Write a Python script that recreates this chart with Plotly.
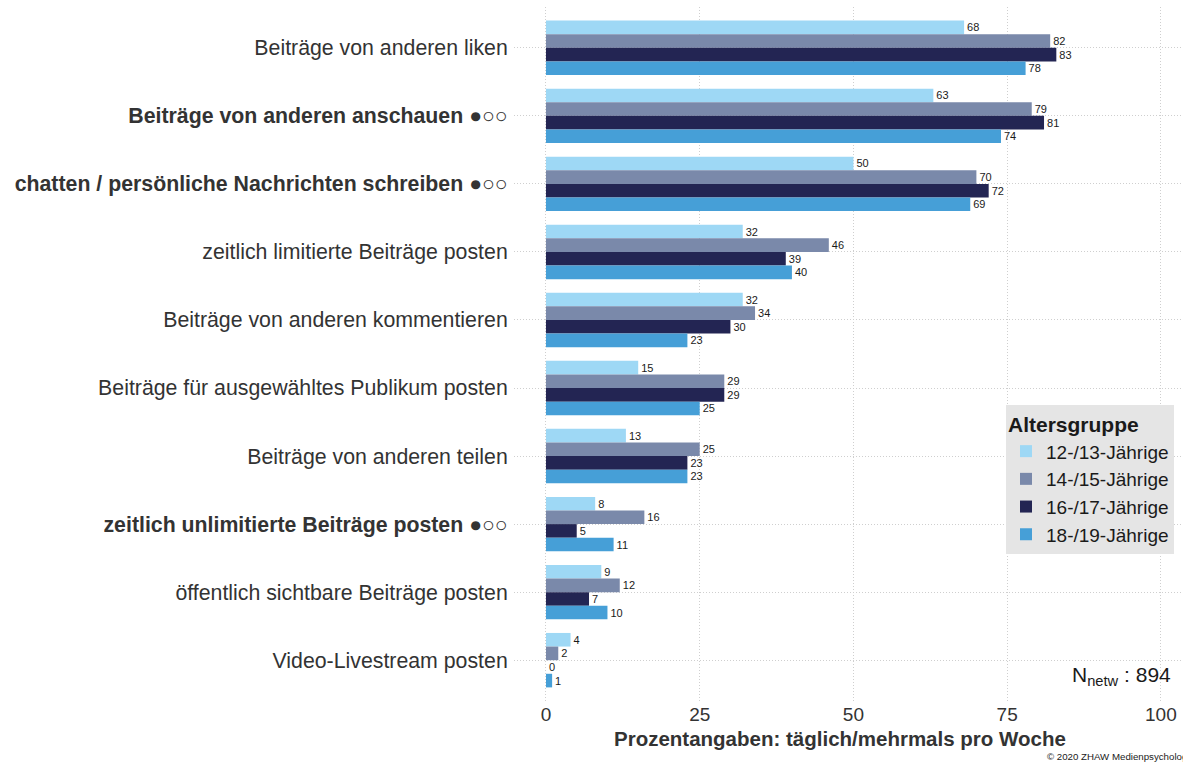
import plotly.graph_objects as go

DOTS = "●○○"
categories = [
    "Beiträge von anderen liken",
    "<b>Beiträge von anderen anschauen " + DOTS + "</b>",
    "<b>chatten / persönliche Nachrichten schreiben " + DOTS + "</b>",
    "zeitlich limitierte Beiträge posten",
    "Beiträge von anderen kommentieren",
    "Beiträge für ausgewähltes Publikum posten",
    "Beiträge von anderen teilen",
    "<b>zeitlich unlimitierte Beiträge posten " + DOTS + "</b>",
    "öffentlich sichtbare Beiträge posten",
    "Video-Livestream posten",
]

groups = ["12-/13-Jährige", "14-/15-Jährige", "16-/17-Jährige", "18-/19-Jährige"]
vals_12_13 = [68, 63, 50, 32, 32, 15, 13, 8, 9, 4]
vals_14_15 = [82, 79, 70, 46, 34, 29, 25, 16, 12, 2]
vals_16_17 = [83, 81, 72, 39, 30, 29, 23, 5, 7, 0]
vals_18_19 = [78, 74, 69, 40, 23, 25, 23, 11, 10, 1]
series = [vals_12_13, vals_14_15, vals_16_17, vals_18_19]
colors = ["#9ed8f5", "#7a89aa", "#232553", "#469fd7"]

x_ticks = [0, 25, 50, 75, 100]

FONT = "Liberation Sans, Arial, sans-serif"

fig = go.Figure()
for name, vals, col in zip(groups, series, colors):
    fig.add_trace(go.Bar(
        y=categories, x=vals, name=name, orientation="h",
        marker=dict(color=col, line=dict(width=0)),
        text=[str(v) for v in vals], textposition="outside",
        textfont=dict(size=11, color="#1a1a1a", family=FONT),
        cliponaxis=False,
    ))

W, H = 1183, 762
left, top, bottom = 514, 7, 61
PW, PH = W - left, H - top - bottom

fig.update_layout(
    width=W, height=H,
    barmode="group", bargap=0.2, bargroupgap=0,
    plot_bgcolor="white", paper_bgcolor="white",
    font=dict(family=FONT, color="#333333"),
    margin=dict(l=left, r=0, t=top, b=bottom),
    xaxis=dict(
        range=[-5.2, 103.6], tickvals=x_ticks, ticktext=[str(t) for t in x_ticks],
        showgrid=True, gridcolor="#cfcfcf", griddash="1px,2px", gridwidth=1,
        zeroline=False, showline=False, ticks="",
        tickfont=dict(size=19, color="#333333"),
    ),
    yaxis=dict(
        type="category", categoryorder="array", categoryarray=categories,
        range=[9.6, -0.6],
        showgrid=True, gridcolor="#cfcfcf", griddash="1px,2px", gridwidth=1,
        zeroline=False, showline=False,
        ticks="outside", ticklen=1, tickcolor="rgba(0,0,0,0)",
        tickfont=dict(size=21.3, color="#333333"),
    ),
    legend=dict(
        title=dict(text="<b>Altersgruppe</b>", font=dict(size=21, color="#1a1a1a")),
        font=dict(size=19, color="#1a1a1a"),
        bgcolor="#e5e5e5", borderwidth=0,
        x=(1006 - left) / PW, xanchor="left",
        y=(H - bottom - 405) / PH, yanchor="top",
        traceorder="normal", itemclick=False,
    ),
    annotations=[
        dict(text="<b>Prozentangaben: täglich/mehrmals pro Woche</b>",
             xref="paper", yref="paper",
             x=(840 - left) / PW, y=(H - bottom - 738) / PH,
             xanchor="center", yanchor="middle", showarrow=False,
             font=dict(size=20.5, color="#333333")),
        dict(text="N<sub>netw</sub> : 894",
             xref="paper", yref="paper",
             x=(1173 - left) / PW, y=(H - bottom - 676) / PH,
             xanchor="right", yanchor="middle", showarrow=False,
             font=dict(size=21, color="#1a1a1a")),
        dict(text="© 2020 ZHAW Medienpsychologie",
             xref="paper", yref="paper",
             x=(1045 - left) / PW, y=(H - bottom - 756) / PH,
             xanchor="left", yanchor="middle", showarrow=False,
             font=dict(size=9.7, color="#1a1a1a")),
    ],
)

fig.write_html(
    "out.html",
    config={"displayModeBar": False},
    post_script="document.body.style.margin='0';document.body.style.overflow='hidden';",
)
